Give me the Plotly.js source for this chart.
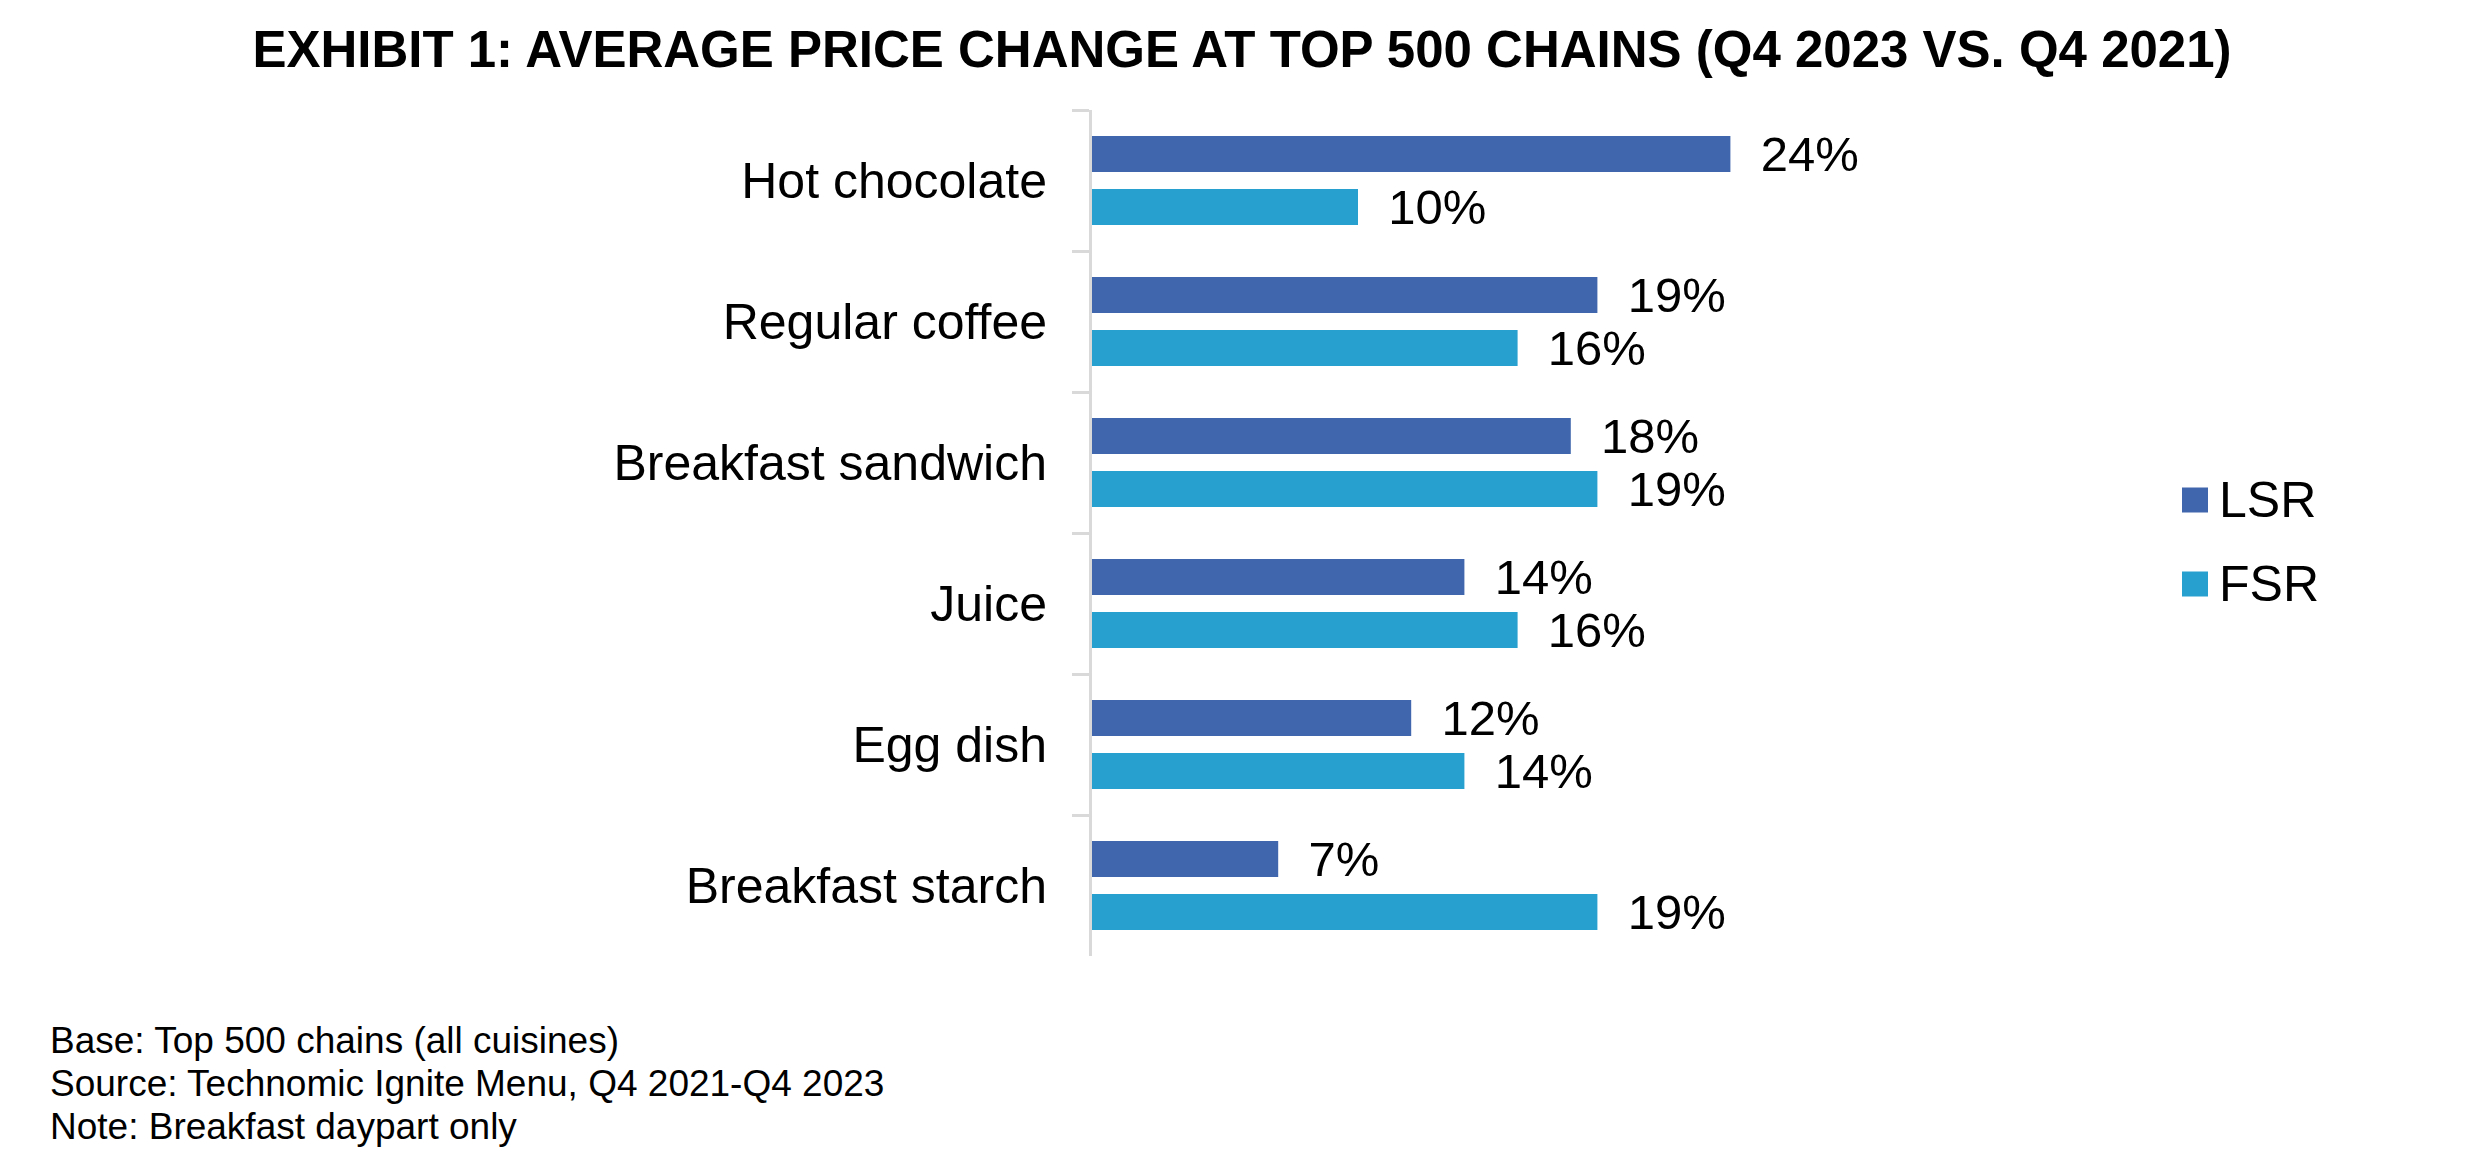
<!DOCTYPE html>
<html>
<head>
<meta charset="utf-8">
<script src="https://cdn.plot.ly/plotly-3.0.1.min.js"></script>
<style>
  html, body { margin: 0; padding: 0; background: #ffffff; }
  #chart { width: 2477px; height: 1168px; }
</style>
</head>
<body>
<div id="chart"></div>
<script>
// ---- data ----
const categories = ["Hot chocolate", "Regular coffee", "Breakfast sandwich", "Juice", "Egg dish", "Breakfast starch"];
const seriesNames = ["LSR", "FSR"];
const lsrValues = [24, 19, 18, 14, 12, 7];
const fsrValues = [10, 16, 19, 16, 14, 19];
const seriesColors = ["#4067AD", "#279FCF"];
const titleText = "EXHIBIT 1: AVERAGE PRICE CHANGE AT TOP 500 CHAINS (Q4 2023 VS. Q4 2021)";
const footnoteLines = [
  "Base: Top 500 chains (all cuisines)",
  "Source: Technomic Ignite Menu, Q4 2021-Q4 2023",
  "Note: Breakfast daypart only"
];

// ---- layout constants (pixels) ----
const W = 2477, H = 1168;
const M = { l: 1092, r: 385, t: 110, b: 212 };
const plotW = W - M.l - M.r;
const plotH = H - M.t - M.b;
const FONT = "Liberation Sans, Arial, Helvetica, sans-serif";
const pxX = (x) => (x - M.l) / plotW;
const pxY = (y) => (H - M.b - y) / plotH;

const NBSP = "\u00A0\u00A0";
const seriesValues = [lsrValues, fsrValues];

const traces = seriesValues.map((vals, i) => ({
  type: "bar",
  orientation: "h",
  name: seriesNames[i],
  x: vals,
  y: categories,
  marker: { color: seriesColors[i], line: { width: 0 } },
  text: vals.map(v => NBSP + v + "%"),
  textposition: "outside",
  textfont: { family: FONT, size: 49, color: "#000000" },
  constraintext: "none",
  cliponaxis: false,
  hoverinfo: "skip",
  showlegend: false
}));

// manual legend (large square swatches)
const legendShapes = [];
const legendAnns = [];
const legendCenters = [500, 584];
seriesNames.forEach((n, i) => {
  const cy = legendCenters[i];
  legendShapes.push({
    type: "rect", xref: "paper", yref: "paper",
    x0: pxX(2182), x1: pxX(2208), y0: pxY(cy + 12.5), y1: pxY(cy - 12.5),
    fillcolor: seriesColors[i], line: { width: 0 }
  });
  legendAnns.push({
    xref: "paper", yref: "paper", x: pxX(2217), y: pxY(cy),
    xanchor: "left", yanchor: "middle", showarrow: false,
    text: n, font: { family: FONT, size: 50, color: "#000000" }
  });
});

// footnotes, one annotation per line
const footCenters = [1040, 1083, 1126];
const footAnns = footnoteLines.map((t, i) => ({
  xref: "paper", yref: "paper",
  x: pxX(48), y: pxY(footCenters[i]),
  xanchor: "left", yanchor: "middle", align: "left",
  showarrow: false, text: t,
  font: { family: FONT, size: 37, color: "#000000" }
}));

const layout = {
  width: W, height: H,
  margin: M,
  paper_bgcolor: "#ffffff",
  plot_bgcolor: "#ffffff",
  barmode: "group",
  bargap: 0.25,
  bargroupgap: 0.32,
  showlegend: false,
  title: {
    text: "<b>" + titleText + "</b>",
    font: { family: FONT, size: 51, color: "#000000" },
    x: 1242 / W, xref: "container", xanchor: "center",
    y: 1 - 49 / H, yref: "container", yanchor: "middle"
  },
  xaxis: {
    visible: false,
    range: [0, plotW / 26.6],
    fixedrange: true
  },
  yaxis: {
    type: "category",
    autorange: "reversed",
    showline: true, linecolor: "#d9d9d9", linewidth: 3,
    ticks: "outside", tickson: "boundaries", ticklen: 17,
    tickcolor: "#d9d9d9", tickwidth: 3,
    ticklabelstandoff: 32,
    showgrid: false, zeroline: false,
    tickfont: { family: FONT, size: 50, color: "#000000" },
    fixedrange: true
  },
  shapes: legendShapes,
  annotations: legendAnns.concat(footAnns)
};

Plotly.newPlot("chart", traces, layout, { displayModeBar: false, staticPlot: true });
</script>
</body>
</html>
